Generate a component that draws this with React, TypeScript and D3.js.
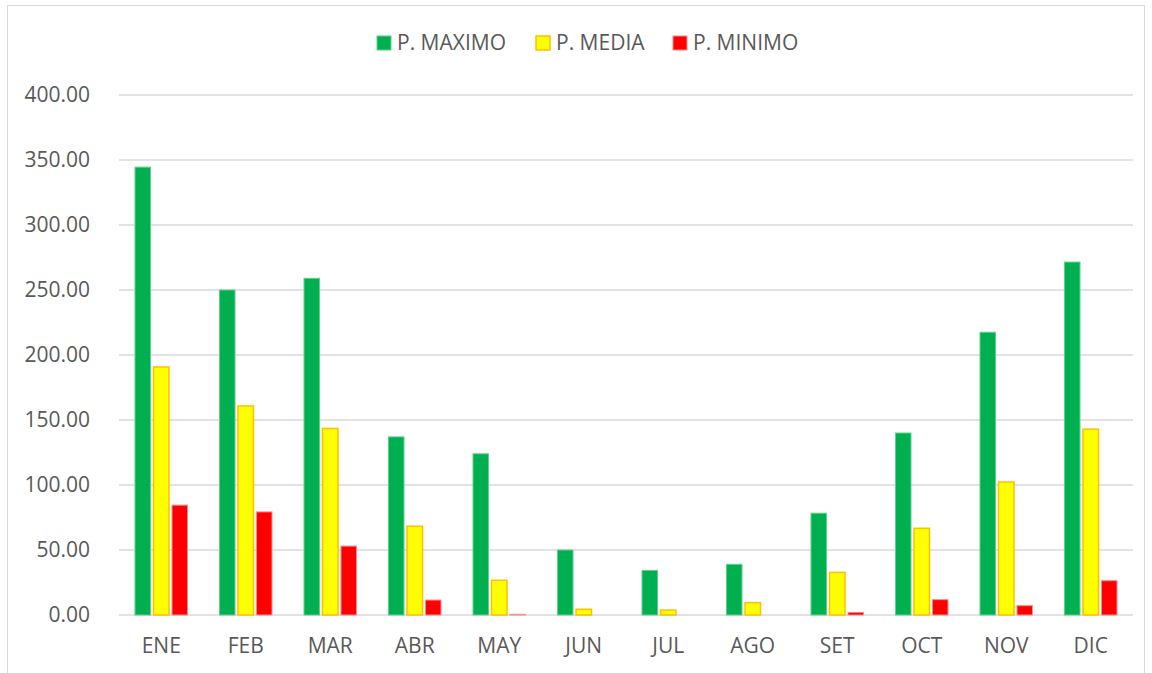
import React from "react";
import * as d3 from "d3";

const months = ["ENE", "FEB", "MAR", "ABR", "MAY", "JUN", "JUL", "AGO", "SET", "OCT", "NOV", "DIC"];
const seriesNames = ["P. MAXIMO", "P. MEDIA", "P. MINIMO"];
const pMaximo = [344.5, 250, 259, 137, 124, 50, 34.3, 39, 78.3, 140, 217.5, 271.5];
const pMedia = [190.8, 160.8, 143.5, 68.3, 26.7, 4.4, 3.8, 9.5, 32.8, 66.7, 102.3, 143];
const pMinimo = [84.5, 79.3, 53, 11.5, 0.5, 0, 0, 0, 2, 11.8, 7.2, 26.4];
const yTicks = [0, 50, 100, 150, 200, 250, 300, 350, 400];

const fills = ["#00B050", "#FFFF00", "#FF0000"];
const strokes = ["#5fd08a", "#FFC000", "#ff8a8a"];
const strokeW = [1, 1.5, 1];

const W = 1152, H = 673;
const left = 119, right = 1133, top = 95, bottom = 615;

export default function App() {
  const x = d3.scaleBand<string>().domain(months).range([left, right]).paddingInner(0).paddingOuter(0);
  const y = d3.scaleLinear().domain([0, 400]).range([bottom, top]);
  const inner = d3.scaleBand<string>().domain(seriesNames).range([-27.75, 27.75]).padding(0);
  const bw = 15.5;
  const data = [pMaximo, pMedia, pMinimo];
  const font = "'Open Sans', 'Noto Sans', sans-serif";
  const legendX = [377, 536, 673];

  return (
    <svg width={W} height={H} style={{ position: "absolute", left: 0, top: 0 }} fontFamily={font}>
      <rect x={0} y={0} width={W} height={H} fill="#fff" />
      <rect x={7.5} y={5.5} width={1137} height={680} fill="#fff" stroke="#d9d9d9" strokeWidth={1} />
      {yTicks.map((t) => (
        <g key={t}>
          <line x1={left} x2={right} y1={y(t)} y2={y(t)} stroke="#d9d9d9" strokeWidth={1.3} />
          <text x={90} y={y(t)} dy="0.35em" textAnchor="end" fontSize={21} fill="#595959">
            {d3.format(".2f")(t)}
          </text>
        </g>
      ))}
      {data.map((vals, si) =>
        vals.map((v, i) => {
          const cx = (x(months[i]) as number) + x.bandwidth() / 2 + (inner(seriesNames[si]) as number) + inner.bandwidth() / 2;
          const h = y(0) - y(v);
          if (v <= 0) return null;
          return (
            <rect
              key={`${si}-${i}`}
              x={cx - bw / 2}
              y={y(v)}
              width={bw}
              height={Math.max(h, 0.5)}
              fill={fills[si]}
              stroke={strokes[si]}
              strokeWidth={strokeW[si]}
            />
          );
        })
      )}
      {months.map((m) => (
        <text key={m} x={(x(m) as number) + x.bandwidth() / 2} y={646} dy="0.35em" textAnchor="middle" fontSize={21} fill="#595959">
          {m}
        </text>
      ))}
      {seriesNames.map((s, i) => (
        <g key={s}>
          <rect x={legendX[i]} y={36} width={14} height={14} fill={fills[i]} stroke={strokes[i]} strokeWidth={strokeW[i]} />
          <text x={legendX[i] + 20} y={43} dy="0.35em" fontSize={21} fill="#595959">
            {s}
          </text>
        </g>
      ))}
    </svg>
  );
}
